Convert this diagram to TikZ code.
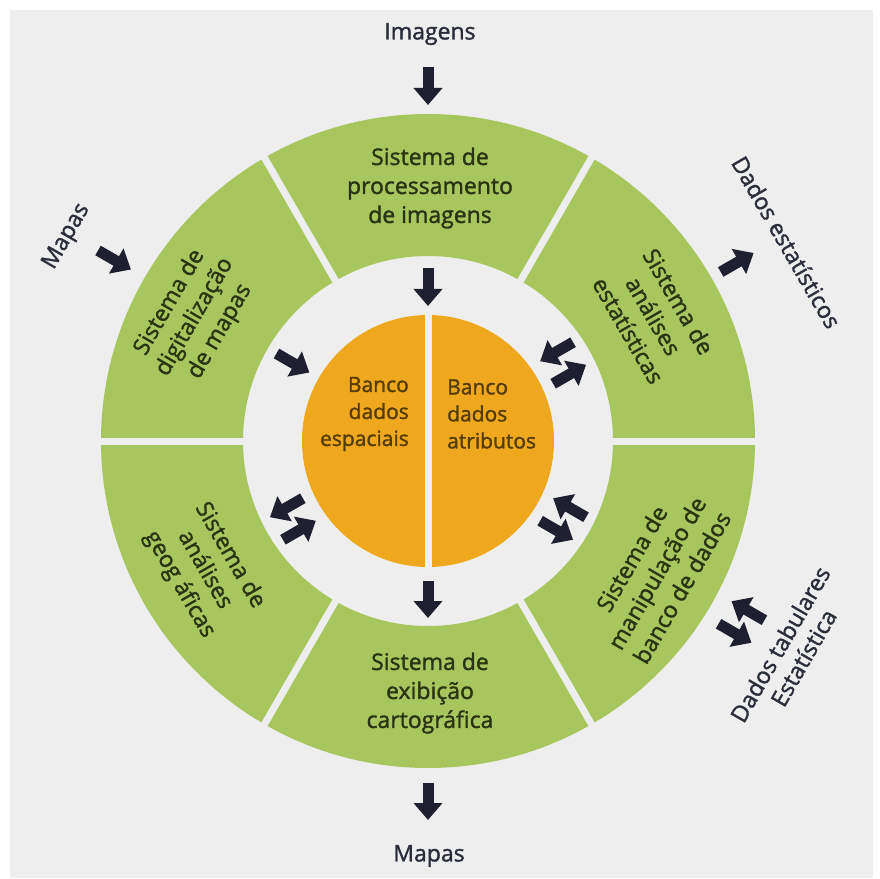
\documentclass[tikz,border=0pt]{standalone}
\usepackage{fontspec}
\setmainfont{Open Sans}[FakeBold=1.4]
\usetikzlibrary{arrows.meta,calc}
\definecolor{cfundo}{HTML}{EEEEEE}
\definecolor{cverde}{HTML}{A8C65E}
\definecolor{claranja}{HTML}{EFA81E}
\definecolor{cflecha}{HTML}{1E2030}
\definecolor{ctverde}{HTML}{2A3312}
\definecolor{ctlaranja}{HTML}{553B06}
\definecolor{ctfora}{HTML}{2A2D3A}

\begin{document}
\begin{tikzpicture}[x=1pt,y=1pt,
	sis/.style={align=center, inner sep=0pt, text=ctverde, font=\fontsize{23}{29}\selectfont},
	banco/.style={inner sep=0pt, text=ctlaranja, font=\fontsize{21}{27}\selectfont},
	rotulo/.style={inner sep=0pt, text=ctfora, font=\fontsize{23}{27}\selectfont},
	flecha/.style={line width=11pt, cflecha, -{Triangle[width=28pt,length=17pt]}}]
\useasboundingbox (-428,-437) rectangle (452,441);
\fill[white] (-428,-437) rectangle (452,441);
\fill[cfundo] (-418,-437) rectangle (445,431);

% anel verde com seis setores
\fill[cverde, even odd rule] (0,0) circle (327) (0,0) circle (185);
\foreach \a in {0,60,...,300}
	\draw[cfundo, line width=7pt] (\a:178) -- (\a:334);

% bancos de dados
\fill[claranja] (0,0) circle (126);
\draw[cfundo, line width=7pt] (0,-130) -- (0,130);
\node[banco, align=right, anchor=east] (espaciais) at (-19,27) {Banco\\dados\\espaciais};
\node[banco, align=left, anchor=west] (atributos) at (19,27) {Banco\\dados\\atributos};

% sistemas
\node[sis] (proc) at (2,253) {Sistema de\\processamento\\de imagens};
\node[sis, rotate=60] (digit) at (152:264) {Sistema de\\digitalização\\de mapas};
\node[sis, rotate=-60] (estat) at (29:258) {Sistema de\\análises\\estatísticas};
\node[sis, rotate=-60] (geog) at (210:258) {Sistema de\\análises\\geog áficas};
\node[sis, rotate=60] (manip) at (-30:264) {Sistema de\\manipulação de\\banco de dados};
\node[sis] (exib) at (2,-252) {Sistema de\\exibição\\cartográfica};

% entradas e saidas
\node[rotulo] (imagens) at (2,407) {Imagens};
\node[rotulo] (mapasb) at (1,-415) {Mapas};
\node[rotulo, rotate=60] (mapasa) at (150.5:415) {Mapas};
\node[rotulo, rotate=-60] (dadosest) at (29:410) {Dados estatísticos};
\node[rotulo, rotate=60, align=center] (dadostab) at (-30:420) {Dados tabulares\\Estatística};

% setas
\foreach \n/\a/\ra/\rb/\o in {
	fi/90/374/336/0, fp/90/173/135/0,
	fm/150/381/343/0, fd/150/175/137/0,
	fea/30/175/137/13, feb/30/137/175/-13,
	fs/30/338/376/0,
	fga/210/175/137/13, fgb/210/137/175/-13,
	fba/-30/175/137/13, fbb/-30/137/175/-13,
	fta/-30/381/343/13, ftb/-30/343/381/-13,
	fx/270/140/177/0, fy/270/342/379/0}
{
	\coordinate (\n s) at ($(\a:\ra)+(\a+90:\o)$);
	\coordinate (\n e) at ($(\a:\rb)+(\a+90:\o)$);
	\draw[flecha] (\n s) -- (\n e);
}
\end{tikzpicture}
\end{document}
